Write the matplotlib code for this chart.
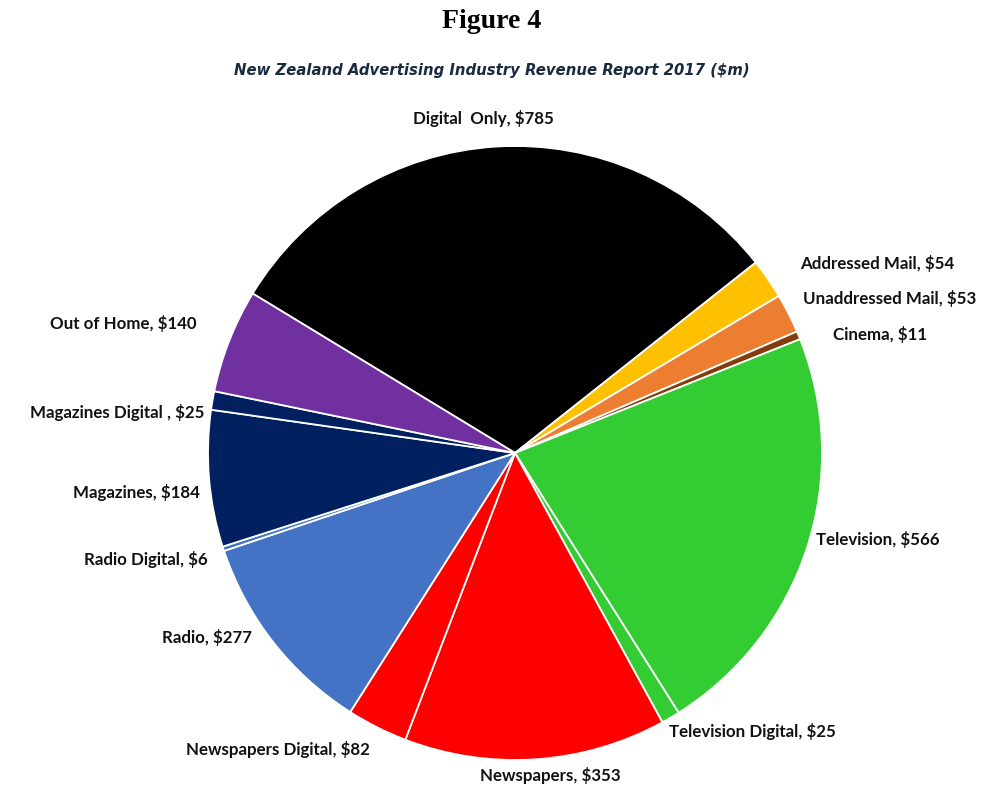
import matplotlib.pyplot as plt

labels = ['Digital  Only, $785', 'Addressed Mail, $54', 'Unaddressed Mail, $53',
          'Cinema, $11', 'Television, $566', 'Television Digital, $25',
          'Newspapers, $353', 'Newspapers Digital, $82', 'Radio, $277',
          'Radio Digital, $6', 'Magazines, $184', 'Magazines Digital , $25',
          'Out of Home, $140']
values = [785, 54, 53, 11, 566, 25, 353, 82, 277, 6, 184, 25, 140]
colors = ['#000000', '#FFC000', '#ED7D31', '#843C0C', '#33CC33', '#33CC33',
          '#FF0000', '#FF0000', '#4472C4', '#4472C4', '#002060', '#002060',
          '#7030A0']

# label centres in pixels of the original picture
label_px = [(483, 118), (877, 263), (890, 298), (880, 334), (878, 540),
            (752, 731), (550, 775), (278, 749), (207, 637), (146, 560),
            (136, 492), (117, 412), (123, 323)]

W, H = 983, 789
cx, cy, r = 515, 453, 307

fig = plt.figure(figsize=(W / 100, H / 100), dpi=100)
ax = fig.add_axes([(cx - r) / W, (H - cy - r) / H, 2 * r / W, 2 * r / H])
ax.pie(values, colors=colors, startangle=148.7, counterclock=False, radius=1,
       wedgeprops=dict(edgecolor='white', linewidth=1.3))
ax.set_xlim(-1, 1)
ax.set_ylim(-1, 1)
ax.set_aspect('equal')
ax.axis('off')

for lab, (px, py) in zip(labels, label_px):
    ax.text((px - cx) / r, (cy - py) / r, lab, ha='center', va='center',
            fontsize=12.2, fontfamily='Lato', fontweight='bold', color='#111111',
            clip_on=False)

fig.text(0.5, 1 - 22 / H, 'Figure 4', ha='center', va='center', fontsize=20,
         fontfamily='Liberation Serif', fontweight='bold')
fig.text(0.5, 1 - 70 / H, 'New Zealand Advertising Industry Revenue Report 2017 ($m)',
         ha='center', va='center', fontsize=10.7, fontfamily='DejaVu Sans',
         fontweight='bold', fontstyle='italic', color='#1a2a40')

fig.savefig('out.png', dpi=100)
